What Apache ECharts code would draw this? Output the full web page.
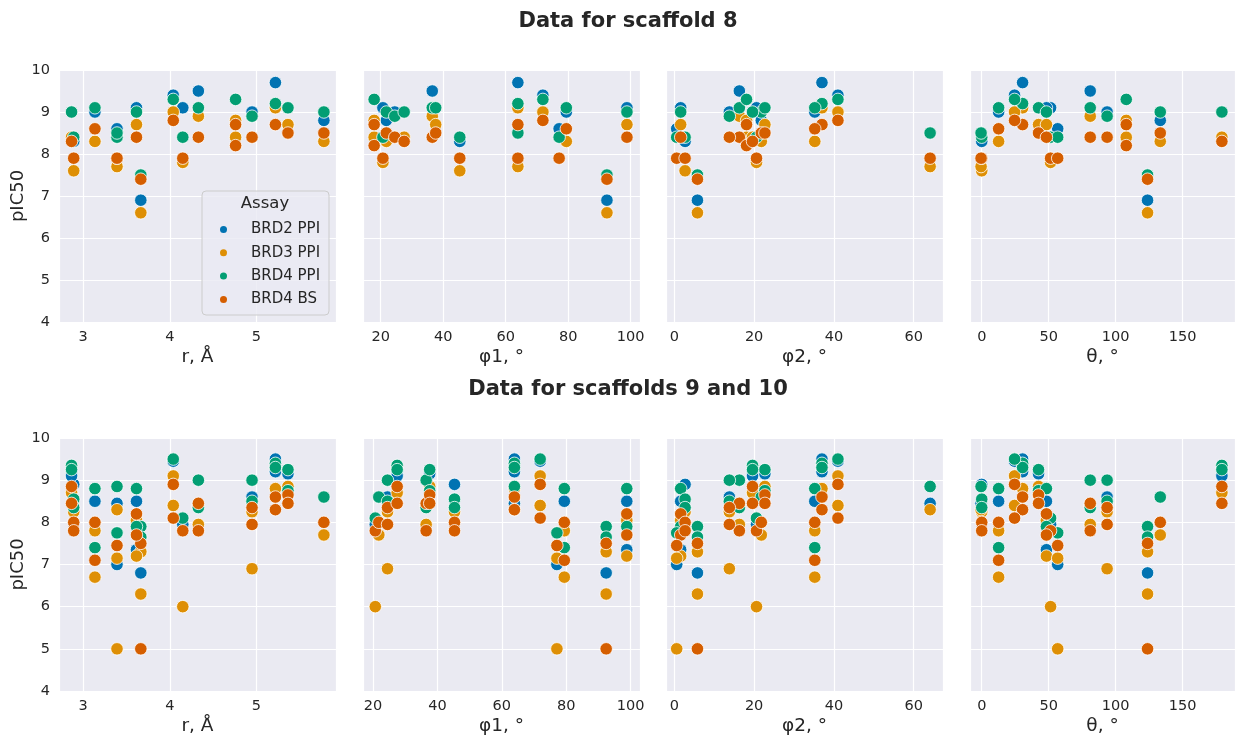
<!DOCTYPE html>
<html>
<head>
<meta charset="utf-8">
<title>pIC50 vs geometry</title>
<script src="https://cdn.jsdelivr.net/npm/echarts@6/dist/echarts.min.js"></script>
<style>
  html, body { margin: 0; padding: 0; background: #fff; }
  #chart { width: 1238px; height: 738px; }
</style>
</head>
<body>
<div id="chart"></div>
<script>
// geometry of each site (same descriptors used by both scaffold sets)
const sites     = ['A', 'B', 'C', 'D', 'E', 'F', 'G', 'H', 'I', 'J', 'K', 'L', 'M', 'N', 'O'];
const siteR     = [5.22, 4.04, 4.33, 3.665, 4.15, 5.78, 4.95, 4.76, 5.365, 3.615, 3.135, 3.39, 2.89, 3.39, 2.865];
const sitePhi1  = [63.9, 71.9, 36.5, 92.4, 20.7, 21.8, 24.5, 17.9, 37.6, 98.8, 79.4, 77.1, 45.3, 63.9, 27.5];
const sitePhi2  = [37.0, 41.0, 16.3, 5.8, 20.6, 21.8, 13.8, 18.1, 22.7, 1.6, 35.2, 0.6, 2.7, 64.1, 19.6];
const siteTheta = [30.5, 24.5, 81.0, 123.8, 51.4, 133.3, 93.6, 107.9, 42.4, 48.3, 12.6, 56.7, 0.0, -0.5, 179.3];

// scaffold 8 compounds
const s8Site = ['A', 'B', 'C', 'D', 'E', 'F', 'G', 'H', 'H', 'I', 'J', 'K', 'L', 'M', 'N', 'O'];
const s8Brd2 = [9.7, 9.4, 9.5, 6.9, 9.1, 8.8, 9.0, null, null, null, 9.1, 9.0, 8.6, 8.3, null, null];
const s8Brd3 = [9.1, 9.0, 8.9, 6.6, 7.8, 8.3, null, 8.8, 8.4, 8.7, 8.7, 8.3, null, 7.6, 7.7, 8.4];
const s8Brd4 = [9.2, 9.3, 9.1, 7.5, 8.4, 9.0, 8.9, 9.3, null, 9.1, 9.0, 9.1, 8.4, 8.4, 8.5, 9.0];
const s8Bs   = [8.7, 8.8, 8.4, 7.4, 7.9, 8.5, 8.4, 8.7, 8.2, 8.5, 8.4, 8.6, 7.9, 7.9, 7.9, 8.3];

// scaffolds 9 and 10 compounds
const s910Site = ['A', 'A', 'B', 'B', 'C', 'C', 'D', 'D', 'E', 'F', 'G', 'G', 'I', 'I', 'J', 'J', 'K', 'K', 'L', 'L', 'M', 'M', 'N', 'O', 'O'];
const s910Brd2 = [9.5, 9.2, 9.45, null, null, null, null, 6.8, 7.95, null, 8.6, null, 9.15, null, 8.5, 7.35, 8.5, null, 7.0, null, 8.9, null, 8.45, 9.2, 9.1];
const s910Brd3 = [8.8, null, 9.1, 8.4, 8.4, 7.95, 7.3, 6.3, 6.0, 7.7, 8.25, 6.9, 8.85, null, 8.05, 7.2, 7.8, 6.7, 7.15, 5.0, 8.25, null, 8.3, 8.7, null];
const s910Brd4 = [9.4, 9.3, 9.5, null, 9.0, 8.35, 7.9, 7.65, 8.1, 8.6, 9.0, 8.5, 9.25, 8.75, 8.8, 7.9, 8.8, 7.4, 7.75, null, 8.55, 8.35, 8.85, 9.35, 9.25];
const s910Bs   = [8.6, 8.3, 8.9, 8.1, 8.45, 7.8, 7.5, 5.0, 7.8, 8.0, 8.35, 7.95, 8.65, 8.45, 8.2, 7.7, 8.0, 7.1, 7.45, null, 8.0, 7.8, null, 8.85, 8.45];

const assays = ['BRD2 PPI', 'BRD3 PPI', 'BRD4 PPI', 'BRD4 BS'];
const colors = ['#0173b2', '#de8f05', '#029e73', '#d55e00'];
const axisNames = ['r, Å', 'φ1, °', 'φ2, °', 'θ, °'];
const rowTitles = ['Data for scaffold 8', 'Data for scaffolds 9 and 10'];

const FONT = 'DejaVu Sans';
const TXT = '#262626';

const descriptors = [siteR, sitePhi1, sitePhi2, siteTheta];
const rows = [
	{ site: s8Site, vals: [s8Brd2, s8Brd3, s8Brd4, s8Bs] },
	{ site: s910Site, vals: [s910Brd2, s910Brd3, s910Brd4, s910Bs] }
];

// panel placement
const colLeft = [59, 363, 666, 970];
const rowTop = [70, 438];
const rowH = [252, 253];
const panelW = 277;
const xRanges = [
	[[2.72, 5.92], [14.33, 102.98], [-2.08, 67.33], [-8.77, 189.1]],
	[[2.72, 5.92], [16.89, 102.9], [-2.08, 67.33], [-8.77, 189.1]]
];
const xSplit = [3, 4, 3, 4];
const xStep = [1, 20, 20, 50];

const grids = [], xAxes = [], yAxes = [], series = [];
for (let r = 0; r < 2; r++) {
	for (let c = 0; c < 4; c++) {
		const idx = r * 4 + c;
		grids.push({
			left: colLeft[c], top: rowTop[r], width: panelW, height: rowH[r],
			show: true, backgroundColor: '#eaeaf2', borderWidth: 0
		});
		const step = xStep[c];
		xAxes.push({
			type: 'value', gridIndex: idx,
			min: xRanges[r][c][0], max: xRanges[r][c][1],
			splitNumber: xSplit[c],
			name: axisNames[c], nameLocation: 'middle', nameGap: 26,
			nameTextStyle: { fontFamily: FONT, fontSize: 18.5, color: TXT },
			axisLine: { show: false }, axisTick: { show: false },
			axisLabel: {
				margin: 8, fontFamily: FONT, fontSize: 14.5, color: TXT,
				formatter: function (v) {
					const k = v / step;
					return Math.abs(k - Math.round(k)) < 1e-6 ? String(Math.round(v)) : '';
				}
			},
			splitLine: { lineStyle: { color: '#ffffff', width: 1.2 } }
		});
		yAxes.push({
			type: 'value', gridIndex: idx, min: 4, max: 10, interval: 1,
			name: c === 0 ? 'pIC50' : '', nameLocation: 'middle', nameGap: 30,
			nameTextStyle: { fontFamily: FONT, fontSize: 18, color: TXT },
			axisLine: { show: false }, axisTick: { show: false },
			axisLabel: { show: c === 0, margin: 9, fontFamily: FONT, fontSize: 14.5, color: TXT },
			splitLine: { lineStyle: { color: '#ffffff', width: 1.2 } }
		});
		const desc = descriptors[c];
		for (let a = 0; a < 4; a++) {
			const vals = rows[r].vals[a];
			const data = [];
			rows[r].site.forEach(function (s, i) {
				if (vals[i] != null) data.push([desc[sites.indexOf(s)], vals[i]]);
			});
			series.push({
				type: 'scatter', name: assays[a],
				xAxisIndex: idx, yAxisIndex: idx,
				data: data, symbolSize: 12.5,
				itemStyle: { color: colors[a], borderColor: '#ffffff', borderWidth: 0.8, opacity: 1 },
				emphasis: { disabled: true }
			});
		}
	}
}

const chart = echarts.init(document.getElementById('chart'));
chart.setOption({
	animation: false,
	grid: grids,
	xAxis: xAxes,
	yAxis: yAxes,
	series: series,
	legend: {
		data: assays, orient: 'vertical',
		left: 220, top: 221, padding: 0, itemGap: 6.3,
		icon: 'circle', itemWidth: 7, itemHeight: 7,
		itemStyle: { borderWidth: 0 },
		textStyle: { fontFamily: FONT, fontSize: 15, color: TXT, lineHeight: 17, padding: [0, 0, 0, 19] },
		z: 60
	},
	graphic: [
		{ type: 'text', x: 628, y: 22, style: { text: rowTitles[0], align: 'center', verticalAlign: 'middle', fontFamily: FONT, fontSize: 21, fontWeight: 'bold', fill: TXT } },
		{ type: 'text', x: 628, y: 390, style: { text: rowTitles[1], align: 'center', verticalAlign: 'middle', fontFamily: FONT, fontSize: 21, fontWeight: 'bold', fill: TXT } },
		{ type: 'rect', z: 50, shape: { x: 202, y: 191, width: 127, height: 124, r: 4 }, style: { fill: 'rgba(234,234,242,0.8)', stroke: '#cccccc', lineWidth: 1 } },
		{ type: 'text', z: 55, x: 265, y: 204, style: { text: 'Assay', align: 'center', verticalAlign: 'middle', fontFamily: FONT, fontSize: 16.5, fill: TXT } }
	]
});
</script>
</body>
</html>
